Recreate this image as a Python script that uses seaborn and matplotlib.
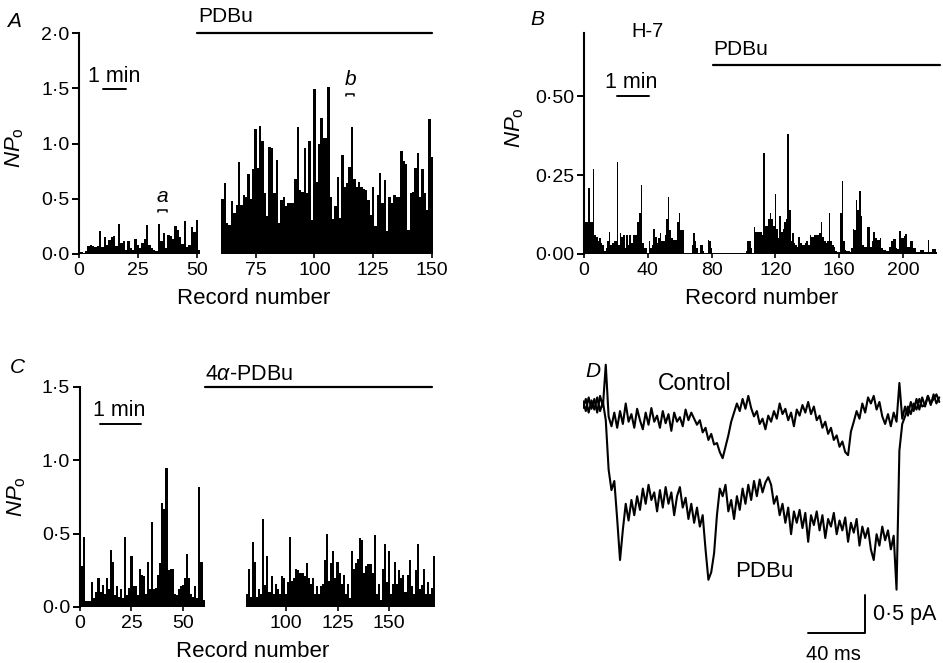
import numpy as np
import seaborn as sns
from matplotlib import pyplot as plt

sns.set_style("ticks")
plt.rcParams['font.family'] = ['Liberation Sans', 'DejaVu Sans']
plt.rcParams['mathtext.fontset'] = 'custom'
plt.rcParams['mathtext.it'] = 'Liberation Sans:italic'
plt.rcParams['mathtext.rm'] = 'Liberation Sans'
for key in ['text.color', 'axes.labelcolor', 'xtick.color', 'ytick.color', 'axes.edgecolor']:
    plt.rcParams[key] = 'black'

# ---- panel A: NPo per record, control then PDBu ----
a_ctrl_rec = np.arange(1, 52)
a_ctrl_np = [0.02, 0.01, 0.03, 0.07, 0.08, 0.07, 0.06, 0.07, 0.21, 0.06,
             0.15, 0.08, 0.13, 0.15, 0.16, 0.07, 0.27, 0.10, 0.12, 0.04,
             0.12, 0.05, 0.04, 0.14, 0.08, 0.05, 0.10, 0.14, 0.26, 0.08,
             0.05, 0.04, 0.03, 0.27, 0.12, 0.19, 0.05, 0.17, 0.16, 0.14,
             0.25, 0.22, 0.15, 0.09, 0.30, 0.06, 0.08, 0.24, 0.20, 0.31,
             0.04]
a_drug_rec = np.arange(61, 151)
a_drug_np = [0.50, 0.64, 0.28, 0.26, 0.48, 0.37, 0.44, 0.83, 0.44, 0.53,
             0.52, 0.72, 0.50, 0.77, 1.13, 0.78, 1.16, 1.02, 0.55, 0.34,
             0.97, 0.96, 0.55, 0.85, 0.28, 0.49, 0.52, 0.43, 0.46, 0.46,
             0.46, 0.68, 1.15, 0.58, 0.56, 0.96, 0.55, 1.02, 0.31, 1.49,
             0.65, 1.00, 1.23, 1.05, 1.05, 1.51, 0.52, 0.32, 0.43, 0.70,
             0.33, 0.90, 0.61, 0.64, 0.79, 1.15, 0.68, 0.61, 0.65, 0.61,
             0.59, 0.58, 0.49, 0.35, 0.61, 0.25, 0.53, 0.73, 0.46, 0.67,
             0.21, 0.52, 0.46, 0.53, 0.52, 0.52, 0.93, 0.84, 0.81, 0.22,
             0.55, 0.56, 0.78, 0.91, 0.52, 0.77, 0.55, 0.40, 1.22, 0.88]
a_xticks = [0, 25, 50, 75, 100, 125, 150]
a_yticks = [0.0, 0.5, 1.0, 1.5, 2.0]

# ---- panel B: H-7 pretreated, then PDBu ----
b_rec = np.arange(1, 222)
b_np = [0.10, 0.10, 0.21, 0.10, 0.10, 0.27, 0.06, 0.055, 0.04, 0.05,
        0.035, 0.03, 0.01, 0.02, 0.04, 0.07, 0.03, 0.035, 0.04, 0.04,
        0.29, 0.03, 0.065, 0.055, 0.06, 0.02, 0.06, 0.03, 0.06, 0.035,
        0.06, 0.06, 0.06, 0.10, 0.13, 0.22, 0.035, 0.02, 0.02, 0.004,
        0.04, 0.02, 0.03, 0.08, 0.055, 0.035, 0.05, 0.065, 0.04, 0.04,
        0.06, 0.11, 0.18, 0.075, 0.05, 0.045, 0.045, 0.045, 0.10, 0.13,
        0.075, 0.075, 0.004, 0.004, 0.004, 0.004, 0.004, 0.03, 0.065, 0.04,
        0.02, 0.004, 0.03, 0.03, 0.01, 0.004, 0.004, 0.045, 0.04, 0.02,
        0.004, 0.004, 0.004, 0.004, 0.004, 0.004, 0.004, 0.004, 0.004, 0.004,
        0.004, 0.004, 0.004, 0.004, 0.004, 0.004, 0.004, 0.004, 0.004, 0.004,
        0.004, 0.01, 0.04, 0.04, 0.02, 0.004, 0.087, 0.07, 0.07, 0.07,
        0.07, 0.06, 0.32, 0.09, 0.09, 0.11, 0.13, 0.11, 0.09, 0.19,
        0.08, 0.05, 0.12, 0.07, 0.08, 0.10, 0.11, 0.38, 0.14, 0.04,
        0.065, 0.034, 0.03, 0.023, 0.055, 0.034, 0.03, 0.03, 0.035, 0.04,
        0.03, 0.06, 0.055, 0.055, 0.06, 0.06, 0.06, 0.065, 0.10, 0.055,
        0.04, 0.034, 0.04, 0.13, 0.04, 0.03, 0.023, 0.01, 0.007, 0.007,
        0.13, 0.23, 0.04, 0.013, 0.01, 0.01, 0.007, 0.02, 0.08, 0.076,
        0.17, 0.14, 0.20, 0.12, 0.03, 0.023, 0.023, 0.087, 0.087, 0.023,
        0.04, 0.07, 0.05, 0.045, 0.045, 0.05, 0.018, 0.013, 0.013, 0.01,
        0.01, 0.023, 0.042, 0.046, 0.046, 0.018, 0.015, 0.074, 0.05, 0.05,
        0.057, 0.062, 0.023, 0.023, 0.04, 0.04, 0.018, 0.018, 0.007, 0.007,
        0.013, 0.013, 0.013, 0.007, 0.007, 0.045, 0.007, 0.007, 0.015, 0.015,
        0.007]
b_xticks = [0, 40, 80, 120, 160, 200]
b_yticks = [0.0, 0.25, 0.5]

# ---- panel C: control then 4alpha-PDBu ----
c_ctrl_rec = np.arange(1, 61)
c_ctrl_np = [0.28, 0.48, 0.04, 0.04, 0.04, 0.17, 0.06, 0.10, 0.20, 0.10,
             0.15, 0.09, 0.20, 0.12, 0.39, 0.31, 0.08, 0.14, 0.07, 0.12,
             0.06, 0.475, 0.08, 0.13, 0.35, 0.14, 0.14, 0.08, 0.26, 0.22,
             0.21, 0.09, 0.31, 0.12, 0.58, 0.12, 0.13, 0.22, 0.30, 0.71,
             0.67, 0.95, 0.25, 0.26, 0.26, 0.09, 0.08, 0.12, 0.14, 0.15,
             0.20, 0.36, 0.20, 0.09, 0.07, 0.14, 0.06, 0.82, 0.31, 0.05]
c_drug_rec = np.arange(81, 173)
c_drug_np = [0.09, 0.26, 0.07, 0.44, 0.31, 0.07, 0.12, 0.09, 0.60, 0.15,
             0.35, 0.10, 0.21, 0.09, 0.16, 0.12, 0.09, 0.21, 0.20, 0.09,
             0.17, 0.48, 0.18, 0.20, 0.26, 0.25, 0.23, 0.23, 0.21, 0.30,
             0.20, 0.16, 0.20, 0.09, 0.14, 0.09, 0.14, 0.16, 0.32, 0.50,
             0.18, 0.30, 0.38, 0.20, 0.31, 0.23, 0.16, 0.22, 0.09, 0.16,
             0.06, 0.38, 0.26, 0.30, 0.33, 0.47, 0.46, 0.23, 0.28, 0.29,
             0.29, 0.23, 0.49, 0.09, 0.16, 0.05, 0.26, 0.43, 0.17, 0.38,
             0.09, 0.16, 0.31, 0.16, 0.25, 0.20, 0.22, 0.10, 0.22, 0.32,
             0.14, 0.09, 0.25, 0.43, 0.12, 0.15, 0.26, 0.09, 0.17, 0.09,
             0.13, 0.35]
c_xticks = [0, 25, 50, 100, 125, 150]
c_yticks = [0.0, 0.5, 1.0, 1.5]

# ---- panel D: single-channel current traces (pA), sampled every 2 ms ----
d_time = np.arange(0, 251, 2)
d_control = [0.05, -0.08, 0.10, -0.05, 0.08, -0.10, 0.12, -0.02, 0.53, -0.15,
             -0.28, -0.10, -0.30, -0.08, -0.25, 0.02, -0.22, -0.12, -0.30, -0.05,
             -0.20, -0.32, -0.10, -0.26, -0.04, -0.22, -0.14, -0.30, -0.08, -0.24,
             -0.12, -0.34, -0.10, -0.22, -0.16, -0.28, -0.06, -0.20, -0.10, -0.18,
             -0.26, -0.20, -0.36, -0.30, -0.46, -0.38, -0.52, -0.50, -0.62, -0.70,
             -0.55, -0.40, -0.22, -0.10, 0.02, -0.08, 0.08, -0.05, 0.12, -0.04,
             -0.15, -0.08, -0.25, -0.18, -0.32, -0.14, -0.22, -0.08, -0.18, 0.02,
             -0.12, -0.05, -0.20, -0.10, -0.28, -0.06, -0.14, 0.00, -0.10, 0.04,
             -0.12, -0.02, -0.20, -0.14, -0.30, -0.22, -0.38, -0.30, -0.46, -0.40,
             -0.55, -0.48, -0.62, -0.66, -0.35, -0.22, -0.08, -0.18, 0.02, -0.10,
             0.10, 0.02, 0.12, -0.06, 0.04, -0.15, -0.25, -0.12, -0.28, -0.10,
             -0.22, 0.29, -0.18, -0.02, -0.14, 0.04, -0.08, 0.08, -0.06, 0.10,
             -0.02, 0.12, 0.00, 0.14, 0.02, 0.10]
d_pdbu = [-0.04, 0.08, -0.10, 0.06, -0.06, 0.10, -0.08, 0.04, -0.20, -0.85,
          -1.12, -1.00, -1.50, -2.04, -1.64, -1.30, -1.52, -1.25, -1.45, -1.20,
          -1.38, -1.10, -1.30, -1.05, -1.25, -1.15, -1.40, -1.12, -1.35, -1.08,
          -1.30, -1.15, -1.45, -1.20, -1.08, -1.35, -1.22, -1.50, -1.30, -1.55,
          -1.35, -1.60, -1.45, -1.90, -2.30, -2.20, -1.95, -1.45, -1.10, -1.20,
          -1.05, -1.40, -1.25, -1.50, -1.20, -1.38, -1.10, -1.30, -1.05, -1.25,
          -1.00, -1.20, -0.98, -1.15, -1.02, -0.95, -1.05, -1.30, -1.20, -1.45,
          -1.30, -1.55, -1.35, -1.70, -1.40, -1.55, -1.38, -1.62, -1.42, -1.80,
          -1.45, -1.58, -1.40, -1.65, -1.45, -1.75, -1.50, -1.60, -1.42, -1.70,
          -1.52, -1.65, -1.48, -1.80, -1.55, -1.68, -1.50, -1.85, -1.60, -1.75,
          -1.62, -1.90, -2.04, -1.70, -1.85, -1.60, -1.78, -1.65, -1.90, -1.72,
          -2.43, -0.60, -0.25, -0.15, -0.02, -0.12, 0.02, -0.06, 0.08, -0.02,
          0.00, 0.12, 0.02, 0.08, 0.14, 0.04]

TICK_FS = 14
LABEL_FS = 16


def dotted(v, nd):
    # journal style decimal point
    return f"{v:.{nd}f}".replace(".", "\u00b7")


def npo_panel(ax, segments, xlim, ylim, xticks, yticks, nd):
    for rec, vals in segments:
        sns.histplot(x=rec, weights=vals, discrete=True, element="step",
                     fill=True, color="black", alpha=1, linewidth=0, ax=ax)
    ax.set_xlim(*xlim)
    ax.set_ylim(*ylim)
    ax.set_xticks(xticks)
    ax.set_xticklabels([str(t) for t in xticks], fontsize=TICK_FS)
    ax.set_yticks(yticks)
    ax.set_yticklabels([dotted(t, nd) for t in yticks], fontsize=TICK_FS)
    sns.despine(ax=ax, bottom=True)
    ax.spines["left"].set_linewidth(1.5)
    ax.tick_params(axis="y", length=5, width=1.4, pad=2)
    ax.tick_params(axis="x", length=3, width=1.2, pad=3)
    ax.set_xlabel("Record number", fontsize=LABEL_FS)
    ax.set_ylabel(r"$NP_{\mathrm{o}}$", fontsize=LABEL_FS)


def scale_bar(ax, x0, x1, y, text, tx, ty):
    ax.plot([x0, x1], [y, y], color="black", lw=1.4, clip_on=False)
    ax.text(tx, ty, text, fontsize=15.5, ha="left", va="baseline")


fig = plt.figure(figsize=(9.43, 6.63), dpi=100)

# panel A
axA = fig.add_axes([0.0838, 0.6169, 0.3743, 0.3333])
npo_panel(axA, [(a_ctrl_rec, a_ctrl_np), (a_drug_rec, a_drug_np)],
          (0, 150), (0, 2.0), a_xticks, a_yticks, 1)
axA.xaxis.set_label_coords(0.496, -0.155)
axA.yaxis.set_label_coords(-0.15, 0.48)
axA.plot([50, 150], [2.0, 2.0], color="black", lw=1.6, clip_on=False)
axA.text(50.5, 2.10, "PDBu", fontsize=15, ha="left", va="baseline")
scale_bar(axA, 10.2, 20, 1.49, "1 min", 3.8, 1.556)
axA.text(35.3, 0.47, "a", fontsize=15, style="italic", ha="center", va="baseline")
axA.plot([33.5, 33.5, 37.3, 37.3], [0.38, 0.40, 0.40, 0.38], color="black", lw=1.1)
axA.text(115.3, 1.53, "b", fontsize=15, style="italic", ha="center", va="baseline")
axA.plot([113.3, 113.3, 116.8, 116.8], [1.43, 1.45, 1.45, 1.43], color="black", lw=1.1)

# panel B
axB = fig.add_axes([0.6193, 0.6169, 0.3754, 0.3333])
npo_panel(axB, [(b_rec, b_np)], (0, 222), (0, 0.70), b_xticks, b_yticks, 2)
axB.xaxis.set_label_coords(0.503, -0.155)
axB.yaxis.set_label_coords(-0.165, 0.57)
axB.text(30, 0.687, "H-7", fontsize=14.5, ha="left", va="baseline")
axB.plot([81, 223], [0.60, 0.60], color="black", lw=1.6, clip_on=False)
axB.text(81, 0.63, "PDBu", fontsize=15, ha="left", va="baseline")
scale_bar(axB, 20.7, 40.8, 0.50, "1 min", 13, 0.525)

# panel C
axC = fig.add_axes([0.0848, 0.0845, 0.3769, 0.3318])
npo_panel(axC, [(c_ctrl_rec, c_ctrl_np), (c_drug_rec, c_drug_np)],
          (0, 172.5), (0, 1.5), c_xticks, c_yticks, 1)
axC.xaxis.set_label_coords(0.485, -0.155)
axC.yaxis.set_label_coords(-0.145, 0.5)
axC.plot([60.7, 171], [1.5, 1.5], color="black", lw=1.6, clip_on=False)
axC.text(60.7, 1.547, r"4$\alpha$-PDBu", fontsize=15.5, ha="left", va="baseline")
scale_bar(axC, 9.7, 29.6, 1.25, "1 min", 6.3, 1.30)

# panel D
axD = fig.add_axes([0.6182, 0.0, 0.3818, 0.4570])
sns.lineplot(x=d_time, y=d_control, color="black", lw=1.5, ax=axD)
sns.lineplot(x=d_time, y=d_pdbu, color="black", lw=1.5, ax=axD)
axD.set_xlim(0, 252.6)
axD.set_ylim(-3.395, 0.592)
axD.axis("off")
axD.text(78.6, 0.20, "Control", fontsize=16.5, ha="center", va="baseline")
axD.text(127.4, -2.26, "PDBu", fontsize=16, ha="center", va="baseline")
axD.plot([157.9, 197.9, 197.9], [-3.0, -3.0, -2.5], color="black", lw=1.4)
axD.text(203.5, -2.83, "0\u00b75 pA", fontsize=15.5, ha="left", va="baseline")
axD.text(176, -3.36, "40 ms", fontsize=14.5, ha="center", va="baseline")

# panel letters
for letter, x, y in [("A", 7, 27), ("B", 530, 25), ("C", 10, 373), ("D", 585, 377)]:
    fig.text(x / 943, 1 - y / 663, letter, fontsize=15, style="italic", va="baseline")

fig.savefig("out.png", dpi=100)
